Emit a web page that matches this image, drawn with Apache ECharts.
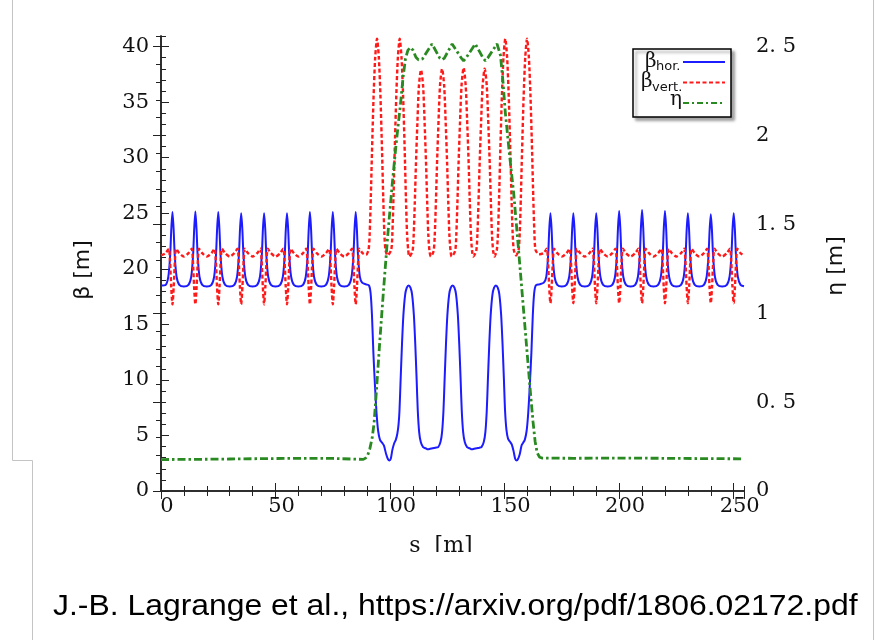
<!DOCTYPE html>
<html>
<head>
<meta charset="utf-8">
<title>beta / eta</title>
<script src="https://cdn.jsdelivr.net/npm/echarts@6.0.0/dist/echarts.min.js"></script>
<style>
  html, body { margin: 0; padding: 0; background: #fff; }
  #main { width: 880px; height: 640px; }
</style>
</head>
<body>
<div id="main"></div>
<script>
// β 水平 (s [m], β [m])
var betaHor = [
  [0,18.5],[2,18.55],[3.2,19.3],[4,21.2],[4.5,23.6],[5,25.1],[5.5,23.6],[6,21.2],[6.8,19.3],[8,18.55],
  [10,18.4],[12,18.55],[13.2,19.3],[14,21.2],[14.5,23.6],[15,25.15],[15.5,23.6],[16,21.2],[16.8,19.3],[18,18.55],
  [20,18.4],[22,18.55],[23.2,19.3],[24,21.2],[24.5,23.6],[25,25.1],[25.5,23.6],[26,21.2],[26.8,19.3],[28,18.55],
  [30,18.4],[32,18.55],[33.2,19.3],[34,21.2],[34.5,23.6],[35,25.0],[35.5,23.6],[36,21.2],[36.8,19.3],[38,18.55],
  [40,18.4],[42,18.55],[43.2,19.3],[44,21.2],[44.5,23.6],[45,25.0],[45.5,23.6],[46,21.2],[46.8,19.3],[48,18.55],
  [50,18.4],[52,18.55],[53.2,19.3],[54,21.2],[54.5,23.6],[55,25.0],[55.5,23.6],[56,21.2],[56.8,19.3],[58,18.55],
  [60,18.4],[62,18.55],[63.2,19.3],[64,21.2],[64.5,23.6],[65,25.1],[65.5,23.6],[66,21.2],[66.8,19.3],[68,18.55],
  [70,18.4],[72,18.55],[73.2,19.3],[74,21.2],[74.5,23.6],[75,25.1],[75.5,23.6],[76,21.2],[76.8,19.3],[78,18.55],
  [80,18.4],[82,18.55],[83.2,19.3],[84,21.2],[84.5,23.6],[85,25.1],[85.5,23.6],[86,21.2],[86.8,19.3],
  [87.8,18.75],[89.5,18.6],[90.8,18.5],[91.5,17.8],[92.1,15.8],[92.7,12.5],[93.4,9.5],[94.1,7.0],[94.8,5.4],
  [95.6,4.6],[96.5,4.35],[97.3,4.1],[98.3,3.3],[99.1,2.85],[99.7,2.75],[100.3,2.9],[101,3.7],[101.8,4.3],
  [102.5,4.6],[103.2,5.2],[103.7,6.0],[104.1,7.2],[104.6,10],[105.2,13.2],[105.8,15.8],[106.6,17.7],[107.3,18.3],
  [108.1,18.5],[108.9,18.3],[109.6,17.7],[110.4,15.8],[111,13.2],[111.6,10],[112.1,7.2],[112.7,5.3],[113.4,4.4],
  [114.4,3.95],[115.5,3.85],[116.5,3.75],[117.5,3.8],[118.6,3.85],[119.8,3.9],[121,3.95],[122,4.4],[122.7,5.3],
  [123.3,7.2],[123.8,10],[124.4,13.2],[125,15.8],[125.8,17.7],[126.5,18.3],[127.3,18.5],[128.1,18.3],[128.8,17.7],
  [129.6,15.8],[130.2,13.2],[130.8,10],[131.3,7.2],[131.9,5.3],[132.6,4.4],[133.6,3.95],[134.7,3.85],[135.7,3.75],
  [136.7,3.8],[137.8,3.85],[139,3.9],[139.9,3.95],[140.9,4.4],[141.6,5.3],[142.2,7.2],[142.7,10],[143.3,13.2],
  [143.9,15.8],[144.7,17.7],[145.4,18.3],[146.2,18.5],[147,18.3],[147.7,17.7],[148.5,15.8],[149.1,13.2],[149.7,10],
  [150.2,7.2],[150.8,5.5],[151.5,4.7],[152.3,4.45],[153.1,4.2],[153.9,3.6],[154.6,2.9],[155.2,2.75],[155.8,2.85],
  [156.6,3.3],[157.4,4.1],[158.1,4.35],[158.8,4.6],[159.6,5.4],[160.3,7.0],[161,9.5],[161.7,12.5],[162.3,15.8],
  [162.9,17.8],[163.6,18.5],[165.2,18.6],[167.1,18.75],
  [168.2,19.3],[169,21.2],[169.5,23.6],[170,25.0],[170.5,23.6],[171,21.2],[171.8,19.3],[173,18.55],
  [175,18.4],[177,18.55],[178.2,19.3],[179,21.2],[179.5,23.6],[180,25.0],[180.5,23.6],[181,21.2],[181.8,19.3],[183,18.55],
  [185,18.4],[187,18.55],[188.2,19.3],[189,21.2],[189.5,23.6],[190,25.0],[190.5,23.6],[191,21.2],[191.8,19.3],[193,18.55],
  [195,18.4],[197,18.55],[198.2,19.3],[199,21.2],[199.5,23.7],[200,25.2],[200.5,23.7],[201,21.2],[201.8,19.3],[203,18.55],
  [205,18.4],[207,18.55],[208.2,19.3],[209,21.2],[209.5,23.7],[210,25.3],[210.5,23.7],[211,21.2],[211.8,19.3],[213,18.55],
  [215,18.4],[217,18.55],[218.2,19.3],[219,21.2],[219.5,23.7],[220,25.2],[220.5,23.7],[221,21.2],[221.8,19.3],[223,18.55],
  [225,18.4],[227,18.55],[228.2,19.3],[229,21.2],[229.5,23.6],[230,25.0],[230.5,23.6],[231,21.2],[231.8,19.3],[233,18.55],
  [235,18.4],[237,18.55],[238.2,19.3],[239,21.2],[239.5,23.5],[240,24.9],[240.5,23.5],[241,21.2],[241.8,19.3],[243,18.55],
  [245,18.4],[247,18.55],[248.2,19.3],[249,21.2],[249.5,23.6],[250,25.0],[250.5,23.6],[251,21.2],[251.8,19.3],[253,18.55],
  [254.5,18.42]
];

// β 垂直
var betaVert = [
  [0,21.2],[2,21.4],[3.4,21.8],[3.9,20.8],[4.45,18.4],[5,16.8],[5.55,18.4],[6.1,20.8],[6.6,21.8],[8,21.4],
  [10,21.1],[12,21.4],[13.4,21.8],[13.9,20.8],[14.45,18.4],[15,16.8],[15.55,18.4],[16.1,20.8],[16.6,21.8],[18,21.4],
  [20,21.1],[22,21.4],[23.4,21.8],[23.9,20.8],[24.45,18.4],[25,16.8],[25.55,18.4],[26.1,20.8],[26.6,21.8],[28,21.4],
  [30,21.1],[32,21.4],[33.4,21.8],[33.9,20.8],[34.45,18.4],[35,16.8],[35.55,18.4],[36.1,20.8],[36.6,21.8],[38,21.4],
  [40,21.1],[42,21.4],[43.4,21.8],[43.9,20.8],[44.45,18.4],[45,16.8],[45.55,18.4],[46.1,20.8],[46.6,21.8],[48,21.4],
  [50,21.1],[52,21.4],[53.4,21.8],[53.9,20.8],[54.45,18.4],[55,16.8],[55.55,18.4],[56.1,20.8],[56.6,21.8],[58,21.4],
  [60,21.1],[62,21.4],[63.4,21.8],[63.9,20.8],[64.45,18.4],[65,16.8],[65.55,18.4],[66.1,20.8],[66.6,21.8],[68,21.4],
  [70,21.1],[72,21.4],[73.4,21.8],[73.9,20.8],[74.45,18.4],[75,16.8],[75.55,18.4],[76.1,20.8],[76.6,21.8],[78,21.4],
  [80,21.1],[82,21.4],[83.4,21.8],[83.9,20.8],[84.45,18.4],[85,16.8],[85.55,18.4],[86.1,20.8],[86.6,21.8],
  [88,21.4],[89.5,21.25],[90.6,21.7],[91.1,23.2],[91.6,26.5],[92.1,30.5],[92.8,35.5],[93.5,39],[94.3,40.7],
  [95.1,39],[95.8,35.5],[96.5,30.5],[97,26.5],[97.5,23.2],[98,21.7],[98.9,21.2],
  [100.5,21.7],[101,23.2],[101.5,26.5],[102,30.5],[102.7,35.5],[103.4,39],[104.2,40.7],[105,39],[105.7,35.5],
  [106.4,30.5],[106.9,26.5],[107.4,23.2],[107.9,21.7],[108.4,21.1],
  [109.8,21.6],[110.3,23],[110.8,26],[111.3,29.5],[111.9,33],[112.6,36.5],[113.5,37.9],[114.4,36.5],[115.1,33],
  [115.7,29.5],[116.2,26],[116.7,23],[117.2,21.6],[117.8,21.1],
  [119,21.6],[119.5,23],[120,26],[120.5,29.5],[121.1,33],[121.8,36.5],[122.7,38],[123.6,36.5],[124.3,33],
  [124.9,29.5],[125.4,26],[125.9,23],[126.4,21.6],[126.9,21.1],
  [128.4,21.6],[128.9,23],[129.4,26],[129.9,29.5],[130.5,33],[131.2,36.5],[132.1,38.1],[133,36.5],[133.7,33],
  [134.3,29.5],[134.8,26],[135.3,23],[135.8,21.6],[136.3,21.1],
  [137.6,21.6],[138.1,23],[138.6,26],[139.1,29.5],[139.7,33],[140.4,36.5],[141.3,38],[142.2,36.5],[142.9,33],
  [143.5,29.5],[144,26],[144.5,23],[145,21.6],[145.6,21.1],
  [146.6,21.7],[147.1,23.2],[147.6,26.5],[148.1,30.5],[148.8,35.5],[149.5,39],[150.3,40.7],[151.1,39],[151.8,35.5],
  [152.5,30.5],[153,26.5],[153.5,23.2],[154,21.7],[155,21.2],
  [156.1,21.7],[156.6,23.2],[157.1,26.5],[157.6,30.5],[158.3,35.5],[159,39],[159.8,40.7],[160.6,39],[161.3,35.5],
  [162,30.5],[162.5,26.5],[163,23.2],[163.5,21.7],[165,21.3],
  [167,21.4],[168.4,21.8],[168.9,20.8],[169.45,18.4],[170,16.9],[170.55,18.4],[171.1,20.8],[171.6,21.8],[173,21.4],
  [175,21.1],[177,21.4],[178.4,21.8],[178.9,20.8],[179.45,18.4],[180,16.9],[180.55,18.4],[181.1,20.8],[181.6,21.8],[183,21.4],
  [185,21.1],[187,21.4],[188.4,21.8],[188.9,20.8],[189.45,18.4],[190,16.9],[190.55,18.4],[191.1,20.8],[191.6,21.8],[193,21.4],
  [195,21.1],[197,21.4],[198.4,21.8],[198.9,20.8],[199.45,18.4],[200,16.9],[200.55,18.4],[201.1,20.8],[201.6,21.8],[203,21.4],
  [205,21.1],[207,21.4],[208.4,21.8],[208.9,20.8],[209.45,18.4],[210,16.9],[210.55,18.4],[211.1,20.8],[211.6,21.8],[213,21.4],
  [215,21.1],[217,21.4],[218.4,21.8],[218.9,20.8],[219.45,18.4],[220,16.9],[220.55,18.4],[221.1,20.8],[221.6,21.8],[223,21.4],
  [225,21.1],[227,21.4],[228.4,21.8],[228.9,20.8],[229.45,18.4],[230,16.9],[230.55,18.4],[231.1,20.8],[231.6,21.8],[233,21.4],
  [235,21.1],[237,21.4],[238.4,21.8],[238.9,20.8],[239.45,18.4],[240,16.9],[240.55,18.4],[241.1,20.8],[241.6,21.8],[243,21.4],
  [245,21.1],[247,21.4],[248.4,21.8],[248.9,20.8],[249.45,18.4],[250,16.9],[250.55,18.4],[251.1,20.8],[251.6,21.8],[253,21.4],
  [254.5,21.2]
];

// η (右轴)
var eta = [
  [0,0.177],[15,0.178],[30,0.18],[45,0.182],[60,0.184],[75,0.183],[88.3,0.178],[89.3,0.185],[90.2,0.2],
  [91.2,0.24],[92.2,0.3],[93,0.38],[93.8,0.52],[95.5,0.84],[97.2,1.14],[99,1.44],[100.9,1.72],[102.7,1.96],
  [104.5,2.17],[105.7,2.33],[106.7,2.43],[107.8,2.48],[108.9,2.495],[110,2.48],[111.3,2.44],[112.4,2.425],
  [113.2,2.418],[114.1,2.43],[118.3,2.515],[121.7,2.435],[122.7,2.425],[123.7,2.435],[127.1,2.515],
  [131.1,2.435],[132.1,2.42],[133.1,2.435],[137.2,2.515],[140.6,2.435],[141.6,2.42],[142.6,2.435],[146.7,2.515],
  [148.2,2.45],[149.3,2.3],[150.3,2.13],[152,1.91],[154,1.67],[156,1.37],[158,1.06],[160,0.75],[161.3,0.55],
  [162.4,0.39],[163.3,0.28],[164.2,0.215],[165.3,0.19],[166.5,0.185],[180,0.184],[200,0.185],[220,0.184],
  [240,0.182],[254.5,0.181]
];

var sMax = 254.5;
var betaMax = 40.95;
var etaMax = betaMax / 16;

(function () {
  var myChart = echarts.init(document.getElementById('main'), null, { renderer: 'canvas' });
  var axisColor = '#222';
  var labelFont = {
    color: '#111',
    fontFamily: 'DejaVu Serif',
    fontSize: 21
  };
  // 公共的刻度样式
  function tickStyle(len) {
    return { show: true, inside: true, length: len, lineStyle: { color: axisColor, width: 1 } };
  }
  function minorAxis(base) {
    return Object.assign({
      type: 'value',
      axisLine: { show: false },
      axisLabel: { show: false },
      splitLine: { show: false }
    }, base);
  }

  var option = {
    animation: false,
    backgroundColor: '#fff',
    grid: {
      left: 161,
      right: 136,
      top: 36,
      bottom: 149,
      containLabel: false,
      outerBoundsMode: 'none'
    },
    xAxis: [{
      type: 'value',
      position: 'bottom',
      min: 0,
      max: sMax,
      interval: 50,
      axisLine: { show: true, lineStyle: { color: axisColor, width: 1.5 } },
      axisTick: tickStyle(8),
      splitLine: { show: false },
      axisLabel: Object.assign({
        margin: 5,
        padding: [0, 0, 0, 12],
        showMaxLabel: false,
        formatter: function (v) { return v % 50 === 0 ? String(v) : ''; }
      }, labelFont)
    },
    minorAxis({ position: 'bottom', min: 0, max: sMax, interval: 10, axisTick: tickStyle(5) }),
    {
      type: 'value',
      position: 'top',
      min: 0,
      max: sMax,
      interval: 50,
      axisLine: { show: true, lineStyle: { color: axisColor, width: 1.5 } },
      axisTick: tickStyle(8),
      axisLabel: { show: false },
      splitLine: { show: false }
    },
    minorAxis({ position: 'top', min: 0, max: sMax, interval: 10, axisTick: tickStyle(5) })
    ],
    yAxis: [{
      type: 'value',
      position: 'left',
      min: 0,
      max: betaMax,
      interval: 5,
      axisLine: { show: true, lineStyle: { color: axisColor, width: 1.5 } },
      axisTick: tickStyle(8),
      splitLine: { show: false },
      axisLabel: Object.assign({
        margin: 12,
        showMaxLabel: false,
        formatter: function (v) { return v % 5 === 0 ? String(v) : ''; }
      }, labelFont)
    },
    minorAxis({ position: 'left', min: 0, max: betaMax, interval: 1, axisTick: tickStyle(5) }),
    {
      type: 'value',
      position: 'right',
      min: 0,
      max: etaMax,
      interval: 0.5,
      axisLine: { show: true, lineStyle: { color: axisColor, width: 1.5 } },
      axisTick: tickStyle(8),
      splitLine: { show: false },
      axisLabel: Object.assign({
        margin: 12,
        showMaxLabel: false,
        formatter: function (v) {
          if (Math.abs(v * 2 - Math.round(v * 2)) > 1e-6) return '';
          return String(v).replace('.', '. ');
        }
      }, labelFont)
    },
    minorAxis({ position: 'right', min: 0, max: etaMax, interval: 0.1, axisTick: tickStyle(5) })
    ],
    series: [{
      name: 'β hor.',
      type: 'line',
      data: betaHor,
      xAxisIndex: 0,
      yAxisIndex: 0,
      symbol: 'none',
      smooth: 0.25,
      lineStyle: { color: '#1c1cff', width: 2 },
      z: 3
    }, {
      name: 'β vert.',
      type: 'line',
      data: betaVert,
      xAxisIndex: 0,
      yAxisIndex: 0,
      symbol: 'none',
      smooth: 0.25,
      lineStyle: { color: '#ff1a1a', width: 2.4, type: [4, 2.5] },
      z: 4
    }, {
      name: 'η',
      type: 'line',
      data: eta,
      xAxisIndex: 0,
      yAxisIndex: 2,
      symbol: 'none',
      lineStyle: { color: '#2a8a22', width: 2.8, type: [8, 3, 2.5, 3] },
      z: 5
    }],
    graphic: [
      // 幻灯片的灰色边框
      { type: 'line', z: 0, shape: { x1: 12.5, y1: 0, x2: 12.5, y2: 460.5 }, style: { stroke: '#c4c4c4', lineWidth: 1 } },
      { type: 'line', z: 0, shape: { x1: 12.5, y1: 460.5, x2: 32.5, y2: 460.5 }, style: { stroke: '#c4c4c4', lineWidth: 1 } },
      { type: 'line', z: 0, shape: { x1: 32.5, y1: 460.5, x2: 32.5, y2: 640 }, style: { stroke: '#c4c4c4', lineWidth: 1 } },
      { type: 'line', z: 0, shape: { x1: 873.5, y1: 0, x2: 873.5, y2: 640 }, style: { stroke: '#c4c4c4', lineWidth: 1 } },
      // 坐标轴标题
      {
        type: 'text', x: 83, y: 270, rotation: Math.PI / 2, z: 50,
        style: { text: 'β [m]', font: '22px "DejaVu Sans"', fill: '#111', align: 'center', verticalAlign: 'middle' }
      },
      {
        type: 'text', x: 836, y: 266, rotation: Math.PI / 2, z: 50,
        style: { text: 'η [m]', font: '22px "DejaVu Sans"', fill: '#111', align: 'center', verticalAlign: 'middle' }
      },
      {
        type: 'text', x: 441, y: 535, z: 50,
        style: { text: 's  [m]', font: '22px "DejaVu Serif"', fill: '#111', align: 'center', verticalAlign: 'top' }
      },
      { type: 'rect', z: 51, shape: { x: 380, y: 552, width: 130, height: 30 }, style: { fill: '#fff' } },
      // 图例
      {
        type: 'rect', z: 60,
        shape: { x: 633, y: 49, width: 98, height: 68 },
        style: { fill: '#fff', stroke: '#000', lineWidth: 1.5, shadowBlur: 3, shadowOffsetX: 3, shadowOffsetY: 3, shadowColor: 'rgba(0,0,0,0.35)' }
      },
      { type: 'text', x: 645, y: 62, z: 61, style: { text: 'β', font: '20px "DejaVu Serif"', fill: '#111', align: 'left', verticalAlign: 'middle' } },
      { type: 'text', x: 656, y: 67, z: 61, style: { text: 'hor.', font: '13px "DejaVu Sans"', fill: '#111', align: 'left', verticalAlign: 'middle' } },
      { type: 'text', x: 641, y: 82, z: 61, style: { text: 'β', font: '20px "DejaVu Serif"', fill: '#111', align: 'left', verticalAlign: 'middle' } },
      { type: 'text', x: 652, y: 88, z: 61, style: { text: 'vert.', font: '13px "DejaVu Sans"', fill: '#111', align: 'left', verticalAlign: 'middle' } },
      { type: 'text', x: 670, y: 100, z: 61, style: { text: 'η', font: '20px "DejaVu Serif"', fill: '#111', align: 'left', verticalAlign: 'middle' } },
      { type: 'line', z: 61, shape: { x1: 683, y1: 62, x2: 725, y2: 62 }, style: { stroke: '#1c1cff', lineWidth: 2 } },
      { type: 'line', z: 61, shape: { x1: 683, y1: 82.5, x2: 725, y2: 82.5 }, style: { stroke: '#ff1a1a', lineWidth: 2, lineDash: [4, 2.5] } },
      { type: 'line', z: 61, shape: { x1: 683, y1: 103, x2: 725, y2: 103 }, style: { stroke: '#2a8a22', lineWidth: 2, lineDash: [6, 3, 2, 3] } },
      // 引用
      {
        type: 'text', x: 53, y: 607, z: 50, scaleX: 1.1,
        style: { text: 'J.-B. Lagrange et al., https://arxiv.org/pdf/1806.02172.pdf', font: '29px "Liberation Sans"', fill: '#000', align: 'left', verticalAlign: 'middle' }
      }
    ]
  };
  myChart.setOption(option);
  window.addEventListener('resize', function () {
    myChart.resize();
  });
})();
</script>
</body>
</html>
